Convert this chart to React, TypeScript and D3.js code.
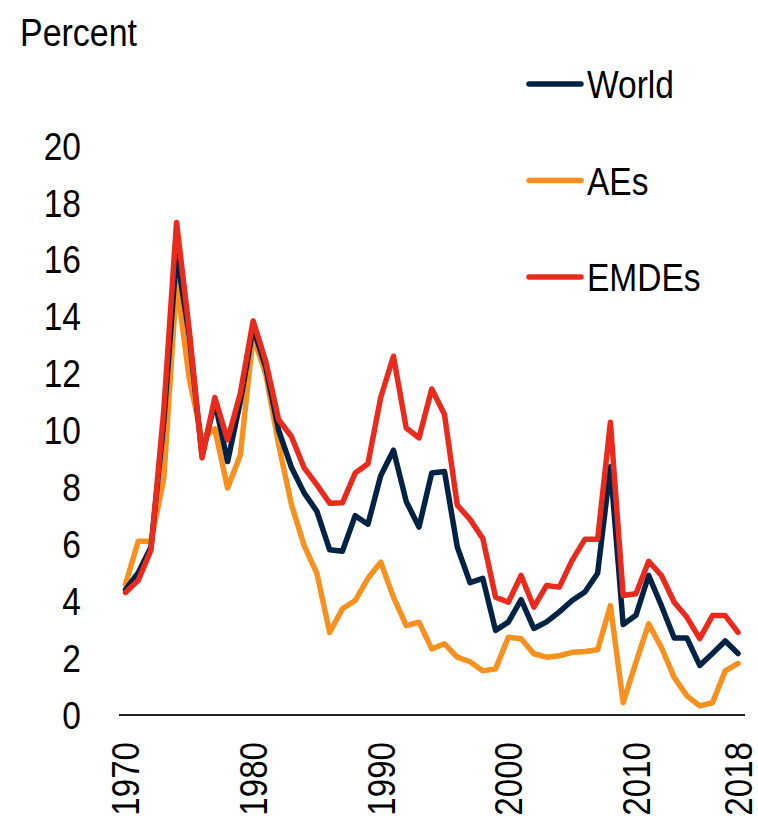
import React from "react";
import * as d3 from "d3";

const years: number[] = d3.range(1970, 2019);

const world: number[] = [
  4.4, 5.0, 5.9, 10.3, 16.2, 13.3, 9.1, 11.0, 8.9, 11.0,
  13.6, 12.2, 10.0, 8.7, 7.8, 7.15, 5.8, 5.75, 7.0, 6.7,
  8.4, 9.3, 7.5, 6.6, 8.5, 8.55, 5.9, 4.65, 4.8, 2.97,
  3.26, 4.05, 3.04, 3.27, 3.62, 4.02, 4.32, 4.98, 8.72, 3.18,
  3.5, 4.9, 3.84, 2.7, 2.7, 1.74, 2.16, 2.6, 2.16,
];

const aes: number[] = [
  4.6, 6.1, 6.1, 8.3, 15.2, 11.8, 9.7, 10.05, 7.97, 9.13,
  13.3, 11.95, 9.5, 7.4, 5.95, 4.97, 2.9, 3.73, 4.02, 4.8,
  5.37, 4.14, 3.14, 3.26, 2.32, 2.5, 2.03, 1.87, 1.55, 1.62,
  2.73, 2.68, 2.15, 2.03, 2.08, 2.2, 2.23, 2.29, 3.84, 0.43,
  1.85, 3.2, 2.37, 1.32, 0.67, 0.32, 0.43, 1.55, 1.81,
];

const emdes: number[] = [
  4.3, 4.73, 5.8, 10.7, 17.3, 13.5, 9.03, 11.15, 9.66, 11.3,
  13.84, 12.4, 10.37, 9.78, 8.68, 8.08, 7.44, 7.45, 8.5, 8.82,
  11.15, 12.6, 10.08, 9.73, 11.45, 10.55, 7.37, 6.87, 6.2, 4.14,
  3.96, 4.9, 3.79, 4.55, 4.49, 5.43, 6.17, 6.17, 10.28, 4.2,
  4.26, 5.4, 4.9, 3.96, 3.43, 2.68, 3.49, 3.49, 2.9,
];

const yTicks: number[] = [0, 2, 4, 6, 8, 10, 12, 14, 16, 18, 20];
const xTickYears: number[] = [1970, 1980, 1990, 2000, 2010, 2018];

const seriesNames: string[] = ["World", "AEs", "EMDEs"];
const seriesColors: string[] = ["#002345", "#F7901E", "#EB2A1E"];

const FONT = "'Liberation Sans', Arial, sans-serif";
const SX = 0.86;

export default function App() {
  const width = 758;
  const height = 821;
  const x = d3.scaleLinear().domain([1970, 2018]).range([125.5, 738]);
  const y = d3.scaleLinear().domain([0, 20]).range([715, 145.5]);

  const line = d3
    .line<number>()
    .x((_, i) => x(years[i]))
    .y((d) => y(d));

  const data: number[][] = [world, aes, emdes];
  const drawOrder = [1, 0, 2];

  return (
    <svg
      width={width}
      height={height}
      style={{ position: "absolute", left: 0, top: 0, background: "#fff" }}
      fontFamily={FONT}
    >
      <rect x={0} y={0} width={width} height={height} fill="#fff" />
      <text transform={`translate(20,46) scale(${SX},1)`} fontSize={39.5} fill="#000">
        Percent
      </text>

      {yTicks.map((t) => (
        <text
          key={t}
          transform={`translate(81,${y(t)}) scale(${SX},1)`}
          dy="0.36em"
          textAnchor="end"
          fontSize={39}
          fill="#000"
        >
          {t}
        </text>
      ))}

      {xTickYears.map((yr) => (
        <text
          key={yr}
          transform={`translate(${x(yr)},742) rotate(-90) scale(${SX},1)`}
          dy="0.36em"
          textAnchor="end"
          fontSize={38.5}
          fill="#000"
        >
          {yr}
        </text>
      ))}

      <line x1={119} x2={745} y1={715} y2={715} stroke="#222" strokeWidth={2} />

      {drawOrder.map((si) => (
        <path
          key={seriesNames[si]}
          d={line(data[si]) || ""}
          fill="none"
          stroke={seriesColors[si]}
          strokeWidth={5.5}
          strokeLinejoin="round"
          strokeLinecap="round"
        />
      ))}

      {seriesNames.map((name, i) => {
        const ly = 84 + i * 96.5;
        return (
          <g key={name}>
            <line
              x1={529}
              x2={581}
              y1={ly}
              y2={ly}
              stroke={seriesColors[i]}
              strokeWidth={5.5}
              strokeLinecap="round"
            />
            <text
              transform={`translate(587,${ly + 14}) scale(${SX},1)`}
              fontSize={39}
              fill="#000"
            >
              {name}
            </text>
          </g>
        );
      })}
    </svg>
  );
}
